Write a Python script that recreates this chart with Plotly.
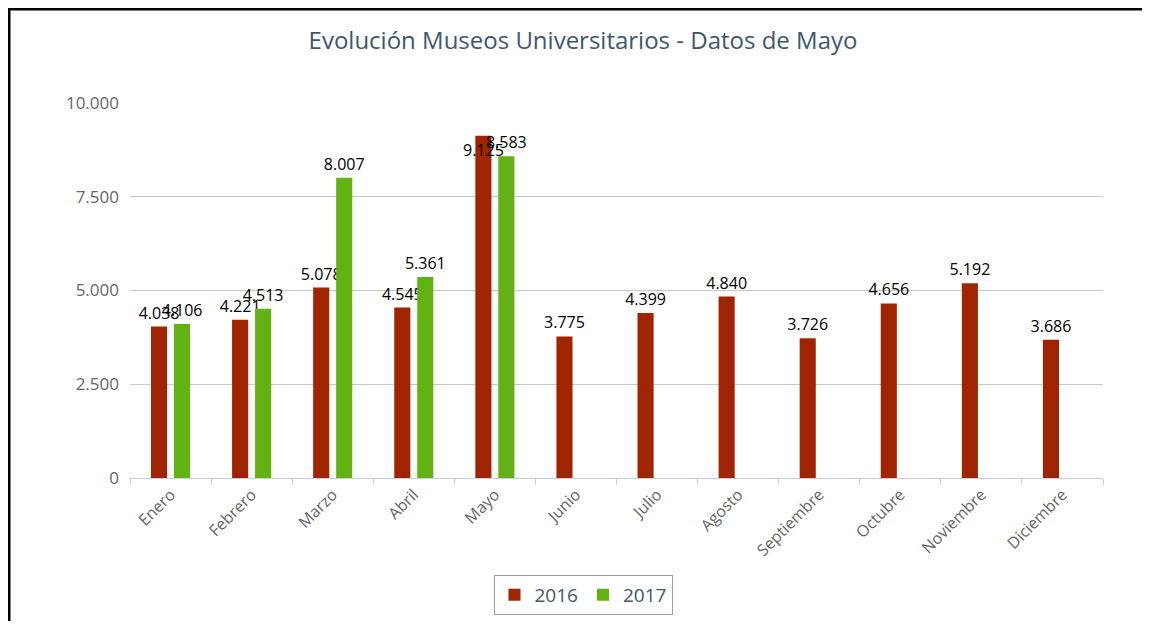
import plotly.graph_objects as go

meses = ["Enero", "Febrero", "Marzo", "Abril", "Mayo", "Junio", "Julio",
         "Agosto", "Septiembre", "Octubre", "Noviembre", "Diciembre"]
visitas_2016 = [4038, 4221, 5078, 4545, 9125, 3775, 4399, 4840, 3726, 4656, 5192, 3686]
visitas_2017 = [4106, 4513, 8007, 5361, 8583, None, None, None, None, None, None, None]
series_names = ["2016", "2017"]
series_colors = ["#A12400", "#62B213"]
y_ticks = [0, 2500, 5000, 7500, 10000]

# page body has an 8px margin: figure pixel = screen pixel - 8
OFF = 8
W, H = 1150 - 2 * OFF, 625 - OFF - 4
L, R, T, B = 130 - OFF, W - (1103 - OFF), 103 - OFF, H - (478 - OFF)
pw, ph = W - L - R, H - T - B

def sx(px):  # screen x -> paper
    return (px - OFF - L) / pw

def sy(py):  # screen y -> paper
    return (H - B - (py - OFF)) / ph

pos_2016 = ["inside" if m == "Mayo" else "outside" for m in meses]

fig = go.Figure()
for name, vals, col, pos in zip(series_names, [visitas_2016, visitas_2017], series_colors,
                                [pos_2016, "outside"]):
    fig.add_trace(go.Bar(
        x=meses, y=vals, name=name,
        marker=dict(color=col, line=dict(width=0)),
        texttemplate="%{y:,}", textposition=pos, insidetextanchor="end",
        textangle=0,
        textfont=dict(family="Open Sans", size=16, color="#000000"),
        insidetextfont=dict(family="Open Sans", size=16, color="#000000"),
        outsidetextfont=dict(family="Open Sans", size=16, color="#000000"),
        constraintext="none", cliponaxis=False,
    ))

fig.update_layout(
    width=W, height=H,
    margin=dict(l=L, r=R, t=T, b=B, autoexpand=False),
    paper_bgcolor="white", plot_bgcolor="white",
    separators=",.",
    barmode="group", bargap=0.433, bargroupgap=0.30,
    title=dict(text="Evolución Museos Universitarios - Datos de Mayo",
               x=(583 - OFF) / W, xanchor="center", y=1 - (41 - OFF) / H, yanchor="middle",
               xref="container", yref="container",
               font=dict(family="Open Sans", size=24, color="#3E576F")),
    font=dict(family="Open Sans"),
    showlegend=True,
    legend=dict(orientation="h", x=sx(583), xanchor="center",
                y=sy(575), yanchor="top",
                bordercolor="#A0A0A0", borderwidth=1, bgcolor="white",
                font=dict(family="Open Sans", size=19, color="#3E576F"),
                traceorder="normal"),
    xaxis=dict(showline=True, linecolor="#C0D0E0", linewidth=1,
               ticks="outside", tickson="boundaries", ticklen=6,
               tickcolor="#C0D0E0", tickangle=-45,
               tickfont=dict(family="Open Sans", size=16, color="#666666"),
               showgrid=False, fixedrange=True),
    yaxis=dict(range=[0, 10000], tickvals=y_ticks, tickformat=",",
               showgrid=True, gridcolor="#C8C8C8", gridwidth=1,
               zeroline=False, showline=False, ticks="",
               ticklabelstandoff=10,
               tickfont=dict(family="Open Sans", size=17, color="#666666")),
    shapes=[
        dict(type="line", xref="paper", yref="paper",
             x0=sx(6), x1=sx(1150), y0=sy(9), y1=sy(9),
             line=dict(color="black", width=3)),
        dict(type="line", xref="paper", yref="paper",
             x0=sx(9), x1=sx(9), y0=sy(8), y1=sy(640),
             line=dict(color="black", width=3)),
    ],
)

fig.write_html("out.html")
